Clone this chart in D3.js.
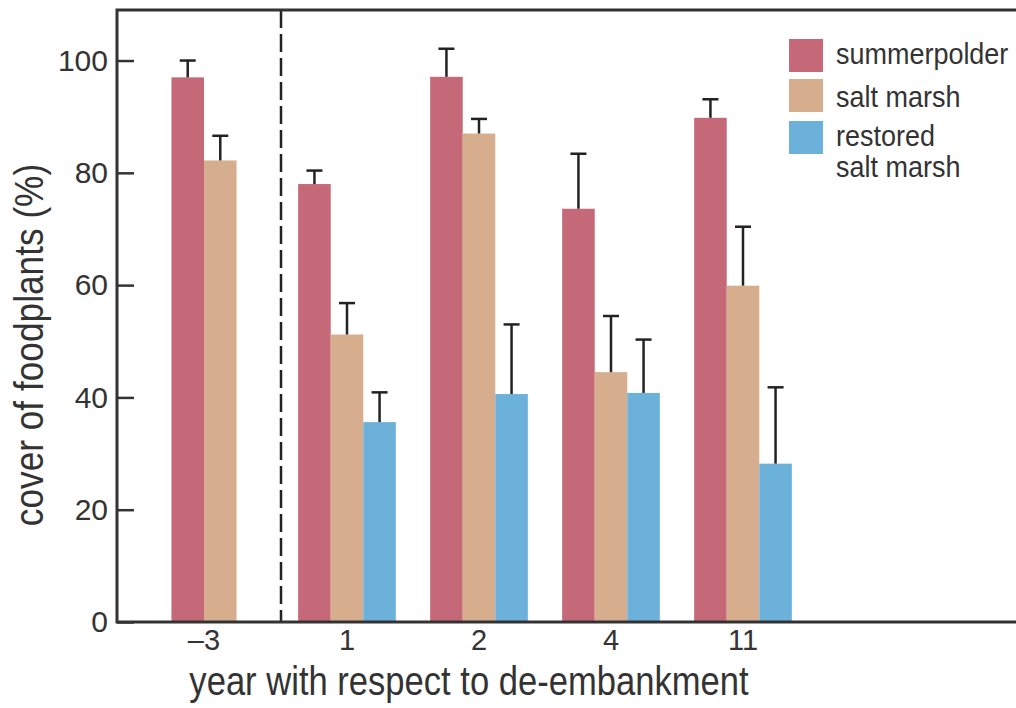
<!DOCTYPE html>
<html>
<head>
<meta charset="utf-8">
<script src="https://cdn.jsdelivr.net/npm/d3@7"></script>
<style>
  body { margin: 0; background: #fff; }
  text { font-family: "Liberation Sans", Arial, sans-serif; fill: #333; }
</style>
</head>
<body>
<svg id="chart" width="1016" height="708"></svg>
<script>
// groups along the x axis (year relative to de-embankment)
const years = ['-3', '1', '2', '4', '11']
const yearLabels = ['\u20133', '1', '2', '4', '11']
const series = ['summerpolder', 'salt marsh', 'restored salt marsh']
const legendLines = [['summerpolder'], ['salt marsh'], ['restored', 'salt marsh']]
const colors = ['#c56878', '#d6ae8e', '#6cb1d9']

// cover of foodplants (%) and the upper error, per series, per year (null = not sampled)
const summerpolder = [97.0, 78.0, 97.1, 73.6, 89.8]
const saltMarsh = [82.2, 51.2, 87.0, 44.5, 59.9]
const restored = [null, 35.6, 40.6, 40.8, 28.2]
const summerpolderErr = [3.0, 2.4, 5.0, 9.8, 3.3]
const saltMarshErr = [4.4, 5.6, 2.6, 10.0, 10.5]
const restoredErr = [null, 5.3, 12.4, 9.5, 13.6]
const yTicks = [0, 20, 40, 60, 80, 100]

const values = [summerpolder, saltMarsh, restored]
const errors = [summerpolderErr, saltMarshErr, restoredErr]

const svg = d3.select('#chart')
const W = +svg.attr('width')
const mLeft = 117
const mTop = 10
const mBottom = 622

const y = d3.scaleLinear().domain([0, 109]).range([mBottom, mTop])

// outer band per year, centred groups with 132px step
const x0 = d3.scaleBand().domain(years)
  .range([149, 809]).paddingInner(0.26).paddingOuter(0.13)
const barW = x0.bandwidth() / series.length
const preShift = -11 // pre-embankment group sits a bit left of its slot

function groupCenter (i) {
  const c = x0(years[i]) + x0.bandwidth() / 2
  return i === 0 ? c + preShift : c
}

// bars
const bars = []
years.forEach((yr, gi) => {
  const present = series.map((s, si) => si).filter(si => values[si][gi] != null)
  const start = groupCenter(gi) - present.length * barW / 2
  present.forEach((si, k) => {
    bars.push({
      x: start + k * barW,
      v: values[si][gi],
      e: errors[si][gi],
      color: colors[si]
    })
  })
})

svg.append('g').selectAll('rect')
  .data(bars)
  .enter()
  .append('rect')
  .attr('x', d => d.x)
  .attr('y', d => y(d.v))
  .attr('width', barW)
  .attr('height', d => y(0) - y(d.v))
  .attr('fill', d => d.color)

// error bars (upper only)
const err = svg.append('g').attr('stroke', '#222').attr('stroke-width', 2.5)
err.selectAll('.stem')
  .data(bars)
  .enter()
  .append('line')
  .attr('x1', d => d.x + barW / 2)
  .attr('x2', d => d.x + barW / 2)
  .attr('y1', d => y(d.v))
  .attr('y2', d => y(d.v + d.e))
err.selectAll('.cap')
  .data(bars)
  .enter()
  .append('line')
  .attr('x1', d => d.x + barW / 2 - 8)
  .attr('x2', d => d.x + barW / 2 + 8)
  .attr('y1', d => y(d.v + d.e))
  .attr('y2', d => y(d.v + d.e))

// dashed de-embankment line
const dashX = (x0(years[0]) + x0(years[1])) / 2 + x0.bandwidth() / 2
svg.append('line')
  .attr('x1', dashX).attr('x2', dashX)
  .attr('y1', mTop).attr('y2', mBottom)
  .attr('stroke', '#222')
  .attr('stroke-width', 2.5)
  .attr('stroke-dasharray', '18,6')

// y axis with inward ticks
const yAxis = svg.append('g')
  .attr('transform', `translate(${mLeft},0)`)
  .call(d3.axisLeft(y).tickValues(yTicks).tickSizeInner(-17).tickSizeOuter(0).tickPadding(9))
yAxis.select('.domain').remove()
yAxis.selectAll('.tick line').attr('stroke', '#333').attr('stroke-width', 2.5)
yAxis.selectAll('.tick text')
  .attr('fill', '#333')
  .style('font-size', '30px')
  .style('font-family', '"Liberation Sans", Arial, sans-serif')

// frame: left, top, bottom
const frame = svg.append('g').attr('stroke', '#333').attr('stroke-width', 3).attr('fill', 'none')
frame.append('path').attr('d', `M${W},${mTop}H${mLeft}V${mBottom}H${W}`)

// x labels
svg.append('g').selectAll('text')
  .data(years)
  .enter()
  .append('text')
  .attr('x', (d, i) => groupCenter(i))
  .attr('y', 650)
  .attr('text-anchor', 'middle')
  .style('font-size', '29px')
  .text((d, i) => yearLabels[i])

// axis titles (narrow type)
svg.append('text')
  .attr('transform', 'translate(469,695) scale(0.865,1)')
  .attr('text-anchor', 'middle')
  .style('font-size', '40px')
  .text('year with respect to de-embankment')

svg.append('text')
  .attr('transform', 'translate(43,345) rotate(-90) scale(0.86,1)')
  .attr('text-anchor', 'middle')
  .style('font-size', '41px')
  .text('cover of foodplants (%)')

// legend
const swatchY = [39, 79, 121]
const legend = svg.append('g').attr('transform', 'translate(789,0)')
legend.selectAll('rect')
  .data(series)
  .enter()
  .append('rect')
  .attr('x', 0)
  .attr('y', (d, i) => swatchY[i])
  .attr('width', 34)
  .attr('height', 33)
  .attr('fill', (d, i) => colors[i])

const lineBase = [[64], [107], [146, 177]]
legendLines.forEach((lines, i) => {
  lines.forEach((t, j) => {
    legend.append('text')
      .attr('transform', `translate(47,${lineBase[i][j]}) scale(0.93,1)`)
      .style('font-size', '29px')
      .text(t)
  })
})
</script>
</body>
</html>
